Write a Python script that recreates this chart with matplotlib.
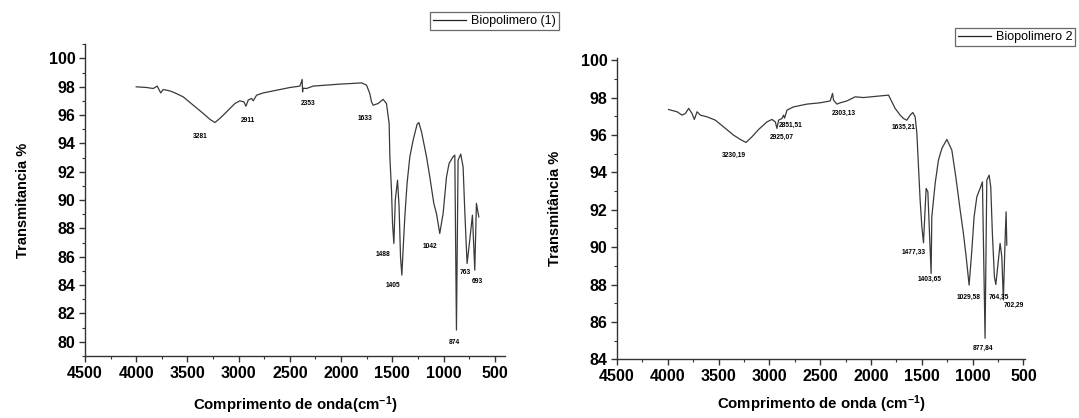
import matplotlib
matplotlib.use("Agg")
import matplotlib.pyplot as plt
from matplotlib.ticker import MultipleLocator

plt.rcParams['font.family'] = ['Liberation Sans', 'DejaVu Sans']
plt.rcParams['font.weight'] = 'bold'
plt.rcParams['mathtext.fontset'] = 'custom'
plt.rcParams['mathtext.rm'] = 'Liberation Sans:bold'
plt.rcParams['mathtext.bf'] = 'Liberation Sans:bold'
plt.rcParams['mathtext.default'] = 'bf'

# Biopolimero (1) spectrum
wn1 = [4000, 3898, 3834, 3795, 3761, 3736, 3671, 3622, 3541, 3443, 3346, 3280,
       3232, 3183, 3118, 3037, 2988, 2949, 2929, 2907, 2874, 2858, 2825, 2760,
       2630, 2500, 2402, 2380, 2376, 2372, 2337, 2273, 2142, 2012, 1882, 1800,
       1752, 1720, 1703, 1687, 1639, 1590, 1557, 1531, 1524, 1508, 1498, 1485,
       1471, 1449, 1434, 1420, 1407, 1395, 1378, 1356, 1329, 1297, 1258, 1241,
       1215, 1166, 1134, 1095, 1069, 1037, 1004, 971, 946, 907, 890, 874, 858,
       832, 809, 793, 776, 770, 744, 718, 695, 679, 656]
t1 = [98.0, 97.95, 97.88, 98.05, 97.57, 97.81, 97.71, 97.57, 97.29, 96.70, 96.12, 95.70,
      95.48, 95.77, 96.23, 96.82, 97.01, 96.94, 96.63, 97.06, 97.18, 97.01, 97.41, 97.57,
      97.76, 97.95, 98.05, 98.52, 97.64, 97.90, 97.88, 98.05, 98.12, 98.19, 98.24, 98.28,
      98.12, 97.53, 96.94, 96.70, 96.82, 97.11, 96.82, 95.41, 93.06, 90.71, 88.36, 86.94,
      90.0, 91.41, 89.53, 86.0, 84.71, 86.47, 88.82, 91.18, 93.06, 94.23, 95.36, 95.48,
      94.82, 93.06, 91.64, 89.77, 89.06, 87.65, 89.06, 91.64, 92.59, 93.06, 93.18, 80.83, 92.82,
      93.25, 92.35, 89.3, 86.47, 85.53, 87.18, 88.94, 85.06, 89.77, 88.82]

# Biopolimero 2 spectrum
wn2 = [3992, 3909, 3860, 3827, 3795, 3762, 3739, 3712, 3680, 3614, 3532, 3451,
       3353, 3287, 3231, 3172, 3107, 3024, 2975, 2942, 2926, 2910, 2877, 2861,
       2851, 2827, 2763, 2631, 2500, 2402, 2379, 2369, 2336, 2303, 2237, 2156,
       2074, 1942, 1828, 1763, 1713, 1681, 1648, 1615, 1589, 1566, 1549, 1533,
       1517, 1500, 1484, 1458, 1441, 1409, 1402, 1369, 1337, 1303, 1254, 1205,
       1166, 1123, 1091, 1064, 1035, 1008, 986, 959, 927, 904, 878, 861, 838,
       822, 806, 786, 772, 747, 730, 713, 698, 681, 671, 664]
t2 = [97.36, 97.24, 97.06, 97.15, 97.42, 97.15, 96.83, 97.24, 97.06, 96.97, 96.79, 96.43,
      95.99, 95.76, 95.60, 95.90, 96.29, 96.70, 96.83, 96.70, 96.35, 96.79, 96.88, 97.06,
      96.90, 97.33, 97.50, 97.65, 97.72, 97.82, 98.22, 97.86, 97.65, 97.72, 97.82, 98.04,
      98.00, 98.07, 98.13, 97.42, 97.06, 96.88, 96.79, 97.06, 97.20, 96.97, 96.08, 94.29,
      92.51, 91.09, 90.23, 93.14, 92.96, 88.59, 91.62, 93.41, 94.65, 95.28, 95.76, 95.19,
      93.76, 91.98, 90.73, 89.48, 87.97, 89.84, 91.62, 92.69, 93.14, 93.49, 85.12, 93.58, 93.85,
      93.22, 90.73, 88.41, 88.0, 89.30, 90.20, 89.48, 87.17, 90.37, 91.89, 90.11]

# peak labels (text, wavenumber, transmittance of label)
peaks1 = ["3281", "2911", "2353", "1633", "1488", "1405", "1042", "874", "763", "693"]
peaks1_x = [3378, 2907, 2321, 1768, 1590, 1498, 1134, 890, 783, 669]
peaks1_y = [94.47, 95.65, 96.82, 95.77, 86.17, 83.95, 86.7, 79.93, 84.87, 84.23]

peaks2 = ["3230,19", "2925,07", "2851,51", "2303,13", "1635,21", "1477,33",
          "1403,65", "1029,58", "764,35", "702,29", "877,84"]
peaks2_x = [3353, 2877, 2795, 2271, 1681, 1583, 1425, 1042, 747, 599, 894]
peaks2_y = [94.92, 95.85, 96.52, 97.15, 96.40, 89.72, 88.29, 87.31, 87.31, 86.9, 84.6]

W, H = 1079, 418
fig = plt.figure(figsize=(W / 100, H / 100), dpi=100)
ax1 = fig.add_axes([85 / W, 1 - 356 / H, 420 / W, (356 - 44.3) / H])
ax2 = fig.add_axes([617 / W, 1 - 359.3 / H, 408 / W, (359.3 - 58.3) / H])

line_col = '#3a3a3a'
l1, = ax1.plot(wn1, t1, color=line_col, lw=0.9)
l2, = ax2.plot(wn2, t2, color=line_col, lw=0.9)

for txt, x, y in zip(peaks1, peaks1_x, peaks1_y):
    ax1.text(x, y, txt, fontsize=4.8, fontweight='bold', ha='center', va='center')
for txt, x, y in zip(peaks2, peaks2_x, peaks2_y):
    ax2.text(x, y, txt, fontsize=4.8, fontweight='bold', ha='center', va='center')

for ax in (ax1, ax2):
    for s in ('top', 'right'):
        ax.spines[s].set_visible(False)
    for s in ('left', 'bottom'):
        ax.spines[s].set_color('#333333')
        ax.spines[s].set_linewidth(1.0)
    ax.set_xticks(range(500, 4501, 500))
    ax.xaxis.set_minor_locator(MultipleLocator(250))
    ax.yaxis.set_major_locator(MultipleLocator(2))
    ax.yaxis.set_minor_locator(MultipleLocator(1))
    ax.tick_params(which='major', direction='out', length=4, width=1.0,
                   labelsize=11.5, colors='#333333', labelcolor='black', pad=3)
    ax.tick_params(which='minor', direction='out', length=2.2, width=0.8, colors='#333333')
    for lab in ax.get_xticklabels() + ax.get_yticklabels():
        lab.set_fontweight('bold')

ax1.set_xlim(4500, 400)
ax1.set_ylim(79, 101)
ax2.set_xlim(4500, 485)
ax2.set_ylim(84, 100.1)

ax1.set_ylabel("Transmitancia %", fontsize=10.5, fontweight='bold', labelpad=13)
ax2.set_ylabel("Transmitância %", fontsize=10.5, fontweight='bold', labelpad=13)
ax1.set_xlabel("Comprimento de onda(cm$^{-1}$)", fontsize=10.8, fontweight='bold', labelpad=10)
ax2.set_xlabel("Comprimento de onda (cm$^{-1}$)", fontsize=10.8, fontweight='bold', labelpad=7)

leg_kw = dict(frameon=True, fancybox=False, handlelength=2.6, borderpad=0.25,
              handletextpad=0.4, borderaxespad=0, prop={'weight': 'normal', 'size': 9})
leg1 = fig.legend([l1], ["Biopolimero (1)"], loc='upper left',
                  bbox_to_anchor=(430 / W, 1 - 12 / H), **leg_kw)
leg2 = fig.legend([l2], ["Biopolimero 2"], loc='upper left',
                  bbox_to_anchor=(955 / W, 1 - 28 / H), **leg_kw)
for leg in (leg1, leg2):
    fr = leg.get_frame()
    fr.set_edgecolor('#444444')
    fr.set_linewidth(0.9)
    leg.get_lines()[0].set_color('#222222')

fig.savefig("out.png", dpi=100)
